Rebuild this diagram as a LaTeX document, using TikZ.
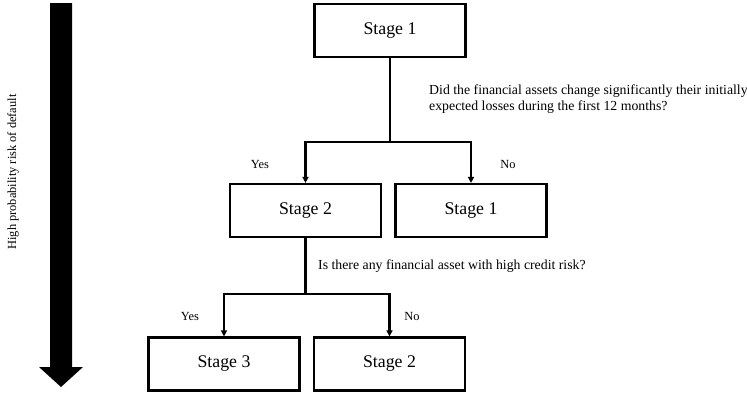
\documentclass[tikz,border=0pt]{standalone}
\usepackage{fontspec}
\setmainfont{Liberation Serif}
\usetikzlibrary{arrows.meta}
\begin{document}
\begin{tikzpicture}[x=1pt,y=-1pt,
  stagebox/.style={draw,line width=2.2pt,minimum width=151pt,minimum height=53pt,inner sep=0pt,font=\fontsize{17.8}{21}\selectfont},
  small/.style={font=\fontsize{12.4}{14.5}\selectfont,inner sep=0pt},
  question/.style={font=\fontsize{13.8}{15.5}\selectfont,inner sep=0pt},
  conn/.style={line width=2.2pt},
  arr/.style={conn,-{Triangle[length=6pt,width=6pt]}}]
\useasboundingbox (0,0) rectangle (747,394);
% big arrow
\fill[black] (50,3) -- (72,3) -- (72,367) -- (83,367) -- (61,387) -- (39,367) -- (50,367) -- cycle;
\node[small,rotate=90] (lbl) at (13,172) {High probability risk of default};
% boxes
\node[stagebox] (s1) at (390,30.5) {Stage 1};
\node[stagebox] (s2a) at (305.5,210.5) {Stage 2};
\node[stagebox] (s1b) at (471,210.5) {Stage 1};
\node[stagebox] (s3) at (224,364) {Stage 3};
\node[stagebox] (s2b) at (389.5,364) {Stage 2};
% connectors
\coordinate (j1) at (s1.south |- 0,142);
\draw[conn] (s1.south) -- (j1);
\draw[arr] (j1) -| (s2a.north);
\draw[arr] (j1) -| (s1b.north);
\coordinate (j2) at (s2a.south |- 0,294);
\draw[conn] (s2a.south) -- (j2);
\draw[arr] (j2) -| (s3.north);
\draw[arr] (j2) -| (s2b.north);
% labels
\node[question,anchor=west,align=left] (q1) at (429,99) {Did the financial assets change significantly their initially\\expected losses during the first 12 months?};
\node[question,anchor=west] (q2) at (318,266) {Is there any financial asset with high credit risk?};
\node[small] (y1) at (260,164) {Yes};
\node[small] (n1) at (508,164) {No};
\node[small] (y2) at (190,316) {Yes};
\node[small] (n2) at (412,316) {No};
\end{tikzpicture}
\end{document}
